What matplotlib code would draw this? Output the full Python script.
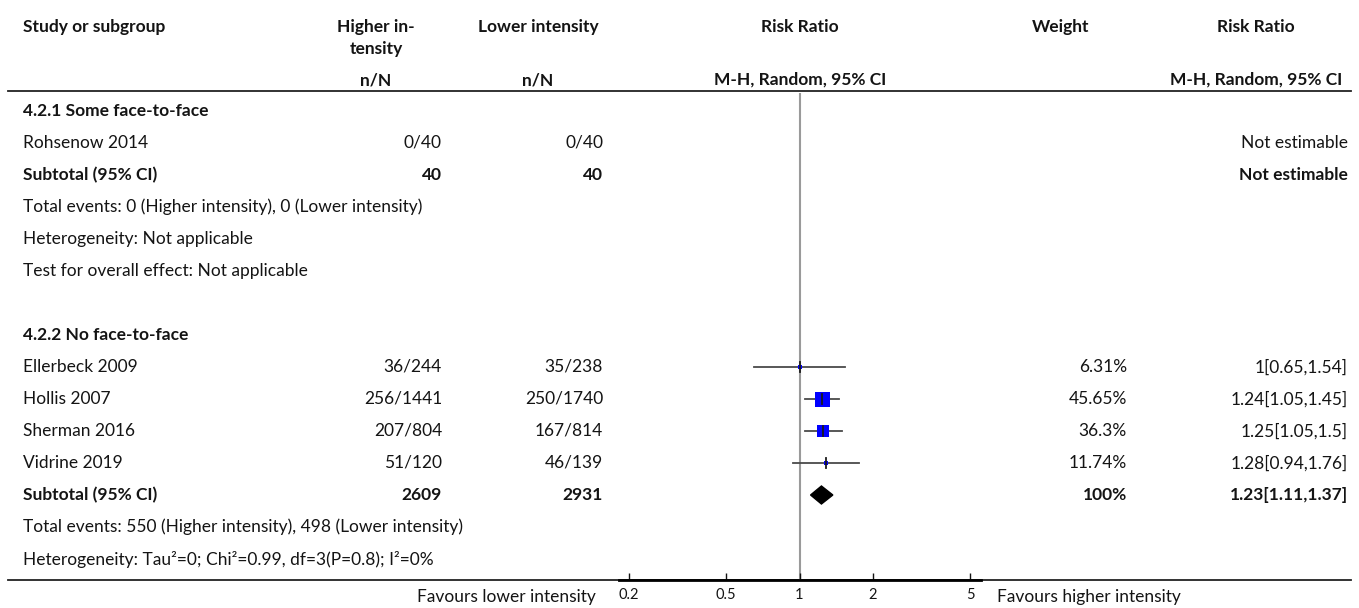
import numpy as np
import matplotlib
matplotlib.use("Agg")
from matplotlib import pyplot as plt
from matplotlib.patches import Polygon

plt.rcParams['font.family'] = ['Lato', 'DejaVu Sans']

# Subgroup 4.2.1
g1_title = "4.2.1 Some face-to-face"
g1_studies = ["Rohsenow 2014"]
g1_high = ["0/40"]
g1_low = ["0/40"]
g1_total_high = 40
g1_total_low = 40
g1_notes = ["Total events: 0 (Higher intensity), 0 (Lower intensity)",
            "Heterogeneity: Not applicable",
            "Test for overall effect: Not applicable"]

# Subgroup 4.2.2
g2_title = "4.2.2 No face-to-face"
g2_studies = ["Ellerbeck 2009", "Hollis 2007", "Sherman 2016", "Vidrine 2019"]
g2_high_n = [36, 256, 207, 51]
g2_high_N = [244, 1441, 804, 120]
g2_low_n = [35, 250, 167, 46]
g2_low_N = [238, 1740, 814, 139]
g2_rr = [1, 1.24, 1.25, 1.28]
g2_lo = [0.65, 1.05, 1.05, 0.94]
g2_hi = [1.54, 1.45, 1.5, 1.76]
g2_weight = [6.31, 45.65, 36.3, 11.74]
g2_total_high = 2609
g2_total_low = 2931
g2_sub = [1.23, 1.11, 1.37]
g2_sub_weight = 100
g2_notes = ["Total events: 550 (Higher intensity), 498 (Lower intensity)",
            "Heterogeneity: Tau\u00b2=0; Chi\u00b2=0.99, df=3(P=0.8); I\u00b2=0%"]

ticks = [0.2, 0.5, 1, 2, 5]
tick_labels = ["0.2", "0.5", "1", "2", "5"]

# layout in pixels
W, H = 1359, 608
ROW0, ROWH = 111, 32
FS = 12.5
X_STUDY, X_HIGH, X_LOW, X_W, X_RR = 23, 442, 603, 1127, 1348
INK = '#141414'


def row_y(k):
    return ROW0 + ROWH * k


fig = plt.figure(figsize=(W / 100, H / 100), dpi=100)
tab = fig.add_axes([0, 0, 1, 1])
tab.set_xlim(0, W)
tab.set_ylim(H, 0)
tab.axis('off')


def txt(x, k, s, ha='left', bold=False):
    tab.text(x, row_y(k), s, ha=ha, va='center', fontsize=FS,
             fontweight='bold' if bold else 'normal', color=INK)


# header
hdr = dict(va='center', fontsize=FS, fontweight='bold', color=INK)
tab.text(X_STUDY, 27, "Study or subgroup", ha='left', **hdr)
tab.text(376, 27, "Higher in-", ha='center', **hdr)
tab.text(376, 49, "tensity", ha='center', **hdr)
tab.text(538, 27, "Lower intensity", ha='center', **hdr)
tab.text(800, 27, "Risk Ratio", ha='center', **hdr)
tab.text(1061, 27, "Weight", ha='center', **hdr)
tab.text(1256, 27, "Risk Ratio", ha='center', **hdr)
tab.text(376, 80, "n/N", ha='center', **hdr)
tab.text(538, 80, "n/N", ha='center', **hdr)
tab.text(800, 80, "M-H, Random, 95% CI", ha='center', **hdr)
tab.text(1256, 80, "M-H, Random, 95% CI", ha='center', **hdr)
tab.plot([8, 1351], [91, 91], color='#222222', lw=1.3)

# subgroup 1
k = 0
txt(X_STUDY, k, g1_title, bold=True)
for i, name in enumerate(g1_studies):
    k += 1
    txt(X_STUDY, k, name)
    txt(X_HIGH, k, g1_high[i], ha='right')
    txt(X_LOW, k, g1_low[i], ha='right')
    txt(X_RR, k, "Not estimable", ha='right')
k += 1
txt(X_STUDY, k, "Subtotal (95% CI)", bold=True)
txt(X_HIGH, k, str(g1_total_high), ha='right', bold=True)
txt(X_LOW, k, str(g1_total_low), ha='right', bold=True)
txt(X_RR, k, "Not estimable", ha='right', bold=True)
for note in g1_notes:
    k += 1
    txt(X_STUDY, k, note)

# subgroup 2
k += 2
txt(X_STUDY, k, g2_title, bold=True)
g2_rows = []
for i, name in enumerate(g2_studies):
    k += 1
    g2_rows.append(k)
    txt(X_STUDY, k, name)
    txt(X_HIGH, k, f"{g2_high_n[i]}/{g2_high_N[i]}", ha='right')
    txt(X_LOW, k, f"{g2_low_n[i]}/{g2_low_N[i]}", ha='right')
    txt(X_W, k, f"{g2_weight[i]:g}%", ha='right')
    txt(X_RR, k, f"{g2_rr[i]:g}[{g2_lo[i]:g},{g2_hi[i]:g}]", ha='right')
k += 1
sub_row = k
txt(X_STUDY, k, "Subtotal (95% CI)", bold=True)
txt(X_HIGH, k, str(g2_total_high), ha='right', bold=True)
txt(X_LOW, k, str(g2_total_low), ha='right', bold=True)
txt(X_W, k, f"{g2_sub_weight:g}%", ha='right', bold=True)
txt(X_RR, k, f"{g2_sub[0]:g}[{g2_sub[1]:g},{g2_sub[2]:g}]", ha='right', bold=True)
for note in g2_notes:
    k += 1
    txt(X_STUDY, k, note)

# bottom rule and favours labels
Y_AX = 580
tab.plot([8, 1351], [Y_AX, Y_AX], color='#222222', lw=1.3)
tab.text(596, 597, "Favours lower intensity", ha='right', va='center',
         fontsize=FS, color=INK)
tab.text(997, 597, "Favours higher intensity", ha='left', va='center',
         fontsize=FS, color=INK)

# forest plot axes
px_dec = (970 - 629) / np.log10(25)
fl, fr, ft = 619, 981, 93
fp = fig.add_axes([fl / W, (H - Y_AX) / H, (fr - fl) / W, (Y_AX - ft) / H])
fp.patch.set_alpha(0)
fp.set_xscale('log')
fp.set_xlim(0.2 * 10 ** (-(629 - fl) / px_dec), 5 * 10 ** ((fr - 970) / px_dec))
fp.set_ylim((Y_AX - ROW0) / ROWH, (ft - ROW0) / ROWH)
fp.axvline(1, color='#9a9a9a', lw=1.5, zorder=1)

for i, r in enumerate(g2_rows):
    fp.plot([g2_lo[i], g2_hi[i]], [r, r], color='#4a4a4a', lw=1.3, zorder=2)
    side = max(15 * g2_weight[i] / max(g2_weight), 4) * 0.72
    fp.scatter([g2_rr[i]], [r], marker='s', s=side ** 2, color='#0000ff',
               linewidths=0, zorder=3)
    fp.plot([g2_rr[i], g2_rr[i]], [r - 0.15, r + 0.15], color='#1a1a1a',
            lw=1.3, zorder=4)

dh = 9 / ROWH
fp.add_patch(Polygon([(g2_sub[1], sub_row), (g2_sub[0], sub_row - dh),
                      (g2_sub[2], sub_row), (g2_sub[0], sub_row + dh)],
                     closed=True, color='black', zorder=3))

for s in ['top', 'left', 'right']:
    fp.spines[s].set_visible(False)
fp.spines['bottom'].set_linewidth(2)
fp.set_yticks([])
fp.set_xticks(ticks)
fp.set_xticklabels(tick_labels)
fp.xaxis.set_minor_locator(matplotlib.ticker.NullLocator())
fp.tick_params(axis='x', direction='in', length=5, width=1, pad=6,
               labelsize=10.5, colors=INK)

fig.savefig('out.png', dpi=100)
